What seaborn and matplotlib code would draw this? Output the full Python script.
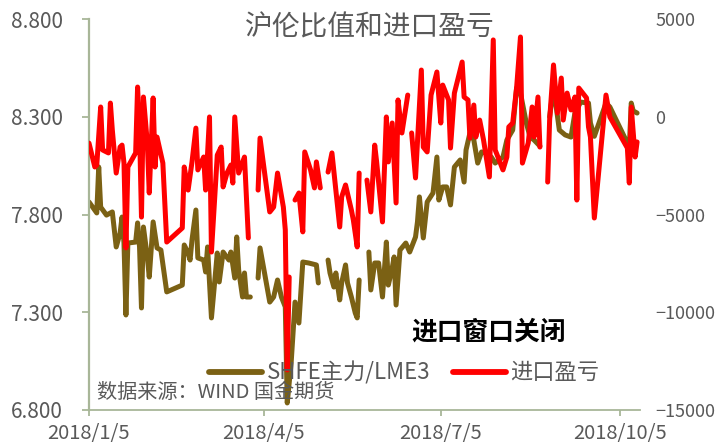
import seaborn as sns
import matplotlib.pyplot as plt
from matplotlib.lines import Line2D
import pandas as pd
import numpy as np

nan = np.nan

# ---------------------------
# Data
# ---------------------------
ratio_dates = [
    "2018-01-05", "2018-01-09", "2018-01-10", "2018-01-11", "2018-01-14", "2018-01-17", "2018-01-19",
    "2018-01-21", "2018-01-22", "2018-01-23", "2018-01-24", "2018-01-25", "2018-01-29", "2018-01-30",
    "2018-01-31", "2018-02-01", "2018-02-02", "2018-02-04", "2018-02-05", "2018-02-07", "2018-02-09",
    "2018-02-11", "2018-02-14", "2018-02-22", "2018-02-23", "2018-02-25", "2018-02-26", "2018-02-27",
    "2018-03-01", "2018-03-02", "2018-03-05", "2018-03-06", "2018-03-07", "2018-03-09", "2018-03-12",
    "2018-03-13", "2018-03-15", "2018-03-18", "2018-03-19", "2018-03-21", "2018-03-22", "2018-03-23",
    "2018-03-25", "2018-03-26", "2018-03-27", "2018-03-29", "2018-03-31",
    "2018-04-02", "2018-04-03", "2018-04-08", "2018-04-10", "2018-04-12", "2018-04-14", "2018-04-16",
    "2018-04-17", "2018-04-19", "2018-04-21", "2018-04-23", "2018-04-25", "2018-04-28", "2018-05-02",
    "2018-05-03", "2018-05-05",
    "2018-05-08", "2018-05-09", "2018-05-11", "2018-05-12", "2018-05-14", "2018-05-15", "2018-05-17",
    "2018-05-18", "2018-05-20", "2018-05-22", "2018-05-23", "2018-05-24", "2018-05-26",
    "2018-05-29", "2018-05-30", "2018-06-01", "2018-06-03", "2018-06-05", "2018-06-07", "2018-06-08",
    "2018-06-10", "2018-06-11", "2018-06-12", "2018-06-14", "2018-06-17", "2018-06-19", "2018-06-22",
    "2018-06-23", "2018-06-24", "2018-06-26", "2018-06-28", "2018-07-01", "2018-07-03", "2018-07-04",
    "2018-07-06", "2018-07-08", "2018-07-10", "2018-07-12", "2018-07-15", "2018-07-17", "2018-07-18",
    "2018-07-20", "2018-07-22", "2018-07-24", "2018-07-26", "2018-07-28", "2018-07-31", "2018-08-02",
    "2018-08-06", "2018-08-08", "2018-08-11", "2018-08-13", "2018-08-15", "2018-08-18", "2018-08-20",
    "2018-08-22", "2018-08-25", "2018-08-26",
    "2018-08-30", "2018-09-01", "2018-09-04", "2018-09-07", "2018-09-10", "2018-09-12", "2018-09-15",
    "2018-09-19", "2018-09-20", "2018-09-22", "2018-09-28", "2018-09-30", "2018-10-10", "2018-10-11",
    "2018-10-12", "2018-10-14",
]
ratio_values = [
    7.864, 7.808, 8.043, 7.838, 7.797, 7.813, 7.634,
    7.705, 7.787, 7.654, 7.286, 7.654, 7.659, 7.757,
    7.634, 7.322, 7.736, 7.583, 7.480, 7.762, 7.629,
    7.618, 7.404, 7.439, 7.644, 7.603, 7.567, 7.670,
    7.823, 7.578, 7.567, 7.506, 7.634, 7.271, 7.603,
    7.455, 7.608, 7.567, 7.608, 7.475, 7.685, 7.516,
    7.378, 7.501, 7.378, 7.378, nan,
    7.475, 7.629, 7.352, 7.378, 7.465, 7.378, 7.327,
    6.836, 7.040, 7.352, 7.245, 7.557, 7.552, 7.542,
    7.450, nan,
    7.567, 7.501, 7.429, 7.501, 7.363, 7.450, 7.542,
    7.450, 7.378, 7.296, 7.271, 7.465, nan,
    7.608, 7.414, 7.552, 7.552, 7.378, 7.659, 7.439,
    7.526, 7.583, 7.337, 7.618, 7.654, 7.608, 7.685,
    7.762, 7.890, 7.680, 7.864, 7.910, 8.094, 7.874,
    7.941, 7.941, 7.849, 8.043, 8.079, 7.966, 8.130,
    8.217, 8.181, 8.063, 8.120, 8.115, 8.094, 8.063,
    8.094, 8.181, 8.232, 8.447, 8.421, 8.268, 8.196,
    8.181, 8.150, nan,
    8.299, 8.452, 8.232, 8.207, 8.196, 8.319, 8.375,
    8.370, 8.268, 8.200, 8.370, 8.350, 8.145, 8.370,
    8.330, 8.319,
]

pl_dates = [
    "2018-01-05", "2018-01-08", "2018-01-09", "2018-01-11", "2018-01-12", "2018-01-15", "2018-01-16",
    "2018-01-17", "2018-01-19", "2018-01-21", "2018-01-22", "2018-01-23", "2018-01-24", "2018-01-25",
    "2018-01-29", "2018-01-30", "2018-01-31", "2018-02-01", "2018-02-02", "2018-02-04", "2018-02-05",
    "2018-02-07", "2018-02-08", "2018-02-09", "2018-02-12", "2018-02-14", "2018-02-22", "2018-02-23",
    "2018-02-25", "2018-02-27", "2018-03-01", "2018-03-02", "2018-03-05", "2018-03-06", "2018-03-08",
    "2018-03-09", "2018-03-12", "2018-03-14", "2018-03-15", "2018-03-17", "2018-03-19", "2018-03-20",
    "2018-03-21", "2018-03-23", "2018-03-26", "2018-03-28", "2018-03-31",
    "2018-04-02", "2018-04-03", "2018-04-08", "2018-04-10", "2018-04-12", "2018-04-15", "2018-04-16",
    "2018-04-17", "2018-04-18", "2018-04-19",
    "2018-04-21", "2018-04-23", "2018-04-25", "2018-04-26", "2018-04-29", "2018-05-01", "2018-05-02",
    "2018-05-04", "2018-05-05",
    "2018-05-08", "2018-05-10", "2018-05-14", "2018-05-15", "2018-05-17", "2018-05-20", "2018-05-21",
    "2018-05-23", "2018-05-24", "2018-05-26",
    "2018-05-28", "2018-05-30", "2018-06-01", "2018-06-02", "2018-06-05", "2018-06-07", "2018-06-08",
    "2018-06-10", "2018-06-12", "2018-06-13", "2018-06-15", "2018-06-18", "2018-06-19",
    "2018-06-20", "2018-06-22", "2018-06-25", "2018-06-26", "2018-06-28", "2018-06-30", "2018-07-03",
    "2018-07-05", "2018-07-06", "2018-07-09", "2018-07-10", "2018-07-12", "2018-07-16", "2018-07-17",
    "2018-07-19", "2018-07-20", "2018-07-22", "2018-07-23", "2018-07-25", "2018-07-27", "2018-07-30",
    "2018-08-01", "2018-08-02", "2018-08-06", "2018-08-08", "2018-08-09", "2018-08-11", "2018-08-13",
    "2018-08-15", "2018-08-16", "2018-08-19", "2018-08-21", "2018-08-22", "2018-08-24", "2018-08-25",
    "2018-08-26",
    "2018-08-29", "2018-08-30", "2018-09-01", "2018-09-03", "2018-09-05", "2018-09-06", "2018-09-08",
    "2018-09-10", "2018-09-12", "2018-09-13", "2018-09-14", "2018-09-18", "2018-09-19", "2018-09-20",
    "2018-09-22", "2018-09-28", "2018-09-30", "2018-10-09", "2018-10-10", "2018-10-11", "2018-10-13",
    "2018-10-14",
]
pl_values = [
    -1350, -2570, -2470, 500, -1700, -1850, 700,
    -680, -2880, -1550, -1450, -2370, -6710, -2570,
    -1850, 1520, -680, -5130, 1010, -1340, -3900,
    960, -2570, -1040, -2370, -6410, -5690, -2570,
    -3750, -2310, -580, -2720, -2060, -3750, -10,
    -6920, -1960, -1550, -3590, -2880, -2470, -3390,
    -10, -2880, -2060, -6200, nan,
    -3750, -1090, -4870, -4620, -2880, -4620, -5790,
    -12950, -8200, nan,
    -4260, -3900, -5890, -1800, -2720, -3640, -2310,
    -3640, nan,
    -2830, -1850, -5640, -4100, -3490, -4770, -5280,
    -6660, -2880, nan,
    -3240, -4870, -1450, -2310, -5380, -10, -2310,
    -320, -4410, 860, -830, 1110, nan,
    -830, -3130, 2390, -1550, -1800, 1110, 2290,
    -320, 1620, 860, -1600, 1210, 2800, 1010,
    860, -1090, 600, -1040, -170, -1190, -3080,
    3930, -1700, -2720, -2060, -520, -320, 1470,
    4080, -2370, -1340, 500, -1040, 1010, -1550,
    nan,
    -3340, -170, 2650, 190, 1980, -170, 1210,
    350, 1010, -4260, 1470, 960, -520, -1040,
    -5180, 1110, -10, -1600, -3390, 500, -2060,
    -1290,
]

x_ticks = ["2018-01-05", "2018-04-05", "2018-07-05", "2018-10-05"]
x_tick_labels = ["2018/1/5", "2018/4/5", "2018/7/5", "2018/10/5"]
left_ticks = [6.8, 7.3, 7.8, 8.3, 8.8]
right_ticks = [-15000, -10000, -5000, 0, 5000]

OLIVE = "#7B6114"
RED = "#FF0000"
AXIS_C = "#A8B698"
TEXT_C = "#595959"


def to_frame(dates, values):
    df = pd.DataFrame({"date": pd.to_datetime(dates), "value": values})
    df["seg"] = df["value"].isna().cumsum()  # break the line where data is missing
    return df.dropna()


ratio_df = to_frame(ratio_dates, ratio_values)
pl_df = to_frame(pl_dates, pl_values)

# ---------------------------
# Styling
# ---------------------------
sns.set_style("white")
plt.rcParams["font.family"] = ["Noto Sans CJK SC", "DejaVu Sans"]

fig = plt.figure(figsize=(7.26, 4.43), dpi=100)
ax = fig.add_axes([89 / 726, 33 / 443, 551 / 726, 391 / 443])
ax2 = ax.twinx()

line_kws = dict(units="seg", estimator=None, lw=3.6, legend=False,
                solid_joinstyle="round", solid_capstyle="round")
sns.lineplot(data=ratio_df, x="date", y="value", color=OLIVE, ax=ax, **line_kws)
sns.lineplot(data=pl_df, x="date", y="value", color=RED, ax=ax2, **line_kws)

ax.set_xlim(pd.Timestamp("2018-01-05"), pd.Timestamp("2018-10-15 12:00"))
ax.set_ylim(6.8, 8.8)
ax2.set_ylim(-15000, 5000)

ax.set_xticks(pd.to_datetime(x_ticks))
ax.set_xticklabels(x_tick_labels)
ax.set_yticks(left_ticks)
ax.set_yticklabels([f"{v:.3f}" for v in left_ticks])
ax2.set_yticks(right_ticks)
ax2.set_yticklabels([f"{v:d}".replace("-", "\u2212") for v in right_ticks])

for a in (ax, ax2):
    a.set_xlabel("")
    a.set_ylabel("")
    for s in a.spines.values():
        s.set_visible(False)
ax.spines["left"].set_visible(True)
ax.spines["bottom"].set_visible(True)
ax.spines["left"].set_color(AXIS_C)
ax.spines["bottom"].set_color(AXIS_C)
ax.spines["left"].set_linewidth(1.6)
ax.spines["bottom"].set_linewidth(1.3)

ax.tick_params(axis="y", direction="out", length=5, width=1.3, color=AXIS_C,
               labelsize=15, labelcolor=TEXT_C, pad=14, left=True)
ax.tick_params(axis="x", direction="out", length=4, width=1.3, color=AXIS_C,
               labelsize=14.5, labelcolor=TEXT_C, pad=5, bottom=True)
ax2.tick_params(axis="y", length=0, labelsize=13, labelcolor=TEXT_C, pad=11)

# Titles and notes
ax.text(0.51, 0.977, "沪伦比值和进口盈亏", transform=ax.transAxes, ha="center", va="center",
        fontsize=20, color=TEXT_C)
ax.text(0.586, 0.2, "进口窗口关闭", transform=ax.transAxes, ha="left", va="center",
        fontsize=18.5, fontweight="bold", color="black")
ax.text(0.0145, 0.046, "数据来源：WIND 国金期货", transform=ax.transAxes, ha="left", va="center",
        fontsize=14.5, color=TEXT_C)

handles = [Line2D([], [], color=OLIVE, lw=4.2, solid_capstyle="round"),
           Line2D([], [], color=RED, lw=4.2, solid_capstyle="round")]
ax2.legend(handles, ["SHFE主力/LME3", "进口盈亏"], ncol=2, loc="center",
           bbox_to_anchor=(0.572, 0.095), frameon=False, fontsize=16, labelcolor=TEXT_C,
           handlelength=2.4, handletextpad=0.2, columnspacing=1.0, borderaxespad=0)

plt.savefig("out.png", dpi=100)
